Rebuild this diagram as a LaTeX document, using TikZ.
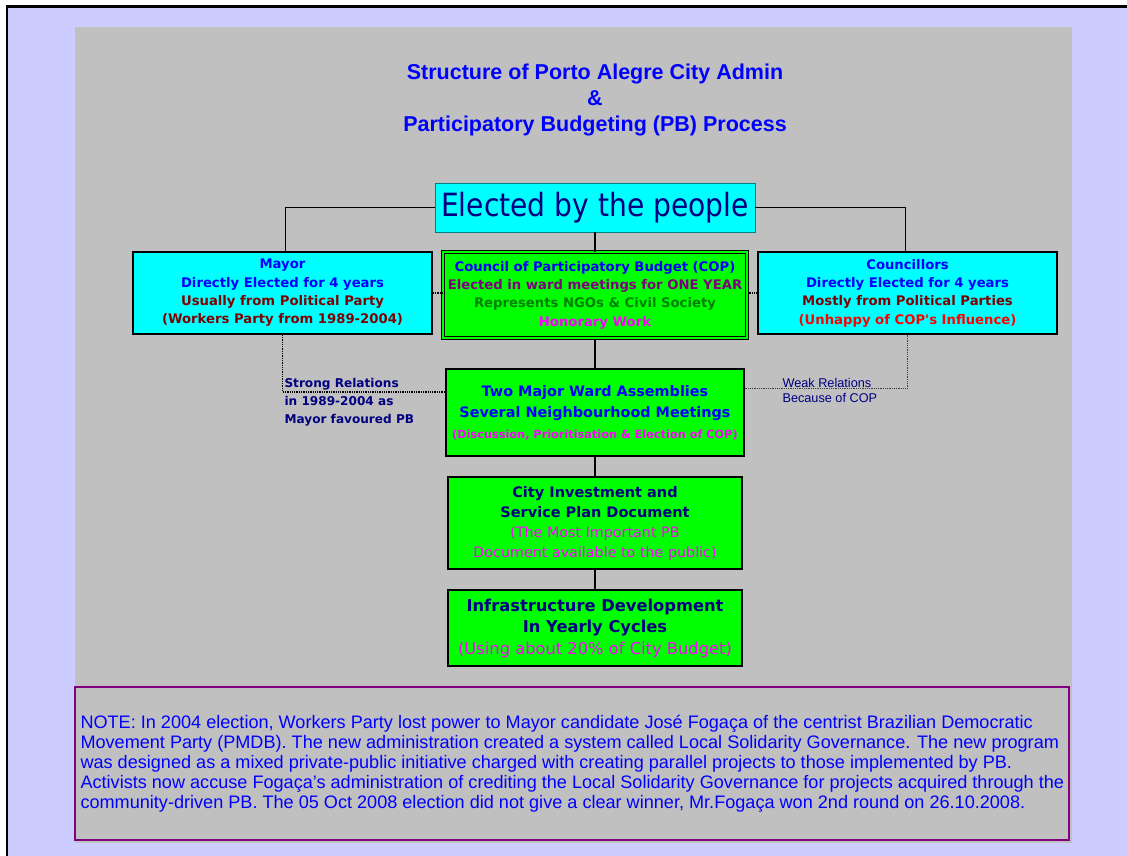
\documentclass[tikz,border=0pt]{standalone}
\usepackage{fontspec}
\setmainfont{Liberation Sans}
\newfontfamily\tahoma{DejaVu Sans}
\newfontfamily\tahomanarrow[FakeStretch=0.88]{DejaVu Sans}
\usetikzlibrary{calc,positioning}
\definecolor{pblav}{HTML}{CCCCFF}
\definecolor{pbgray}{HTML}{C0C0C0}
\definecolor{pbcyan}{HTML}{00FFFF}
\definecolor{pbgreen}{HTML}{00FF00}
\definecolor{pbnavy}{HTML}{000080}
\definecolor{pbblue}{HTML}{0000FF}
\definecolor{pbdred}{HTML}{800000}
\definecolor{pbpurple}{HTML}{800080}
\definecolor{pbngo}{HTML}{008000}
\definecolor{pbmag}{HTML}{FF00FF}
\definecolor{pbred}{HTML}{FF0000}
\definecolor{pbteal}{HTML}{008080}
\tikzset{
    mybox/.style={draw=black,line width=1.2pt,align=center,inner sep=0pt,
      font=\tahoma\bfseries\fontsize{13.2}{18.3}\selectfont},
    cyanbox/.style={mybox,fill=pbcyan,minimum width=299pt,minimum height=82pt},
    greenbox/.style={mybox,fill=pbgreen},
    myedge/.style={line width=1.3pt,draw=black},
    mydot/.style={line width=1.3pt,draw=black,densely dotted},
    weakdot/.style={line width=0.8pt,draw=black!75,densely dotted},
    every node/.style={text=pbnavy}
}
\begin{document}
\begin{tikzpicture}[x=1pt,y=-1pt]
  \useasboundingbox (0,0) rectangle (1127,856);
  \fill[white] (0,0) rectangle (1127,856);
  \fill[pblav] (7,6.5) rectangle (1127,856);
  \draw[black,line width=2.5pt] (7,856) -- (7,6.5) -- (1127,6.5);
  \fill[pbgray] (75,27) rectangle (1072,843);

  \node[text=pbblue,align=center,font=\bfseries\fontsize{21.5}{26}\selectfont] (title) at (595,100)
    {Structure of Porto Alegre City Admin\\ \&\\ Participatory Budgeting (PB) Process};

  \node[draw=pbteal,line width=0.8pt,fill=pbcyan,inner sep=0pt,minimum width=320pt,minimum height=49pt,
    font=\tahomanarrow\fontsize{32}{36}\selectfont] (people) at (595,207.5) {Elected by the people};

  \node[cyanbox] (mayor) at (282.5,293)
    {\textcolor{pbblue}{Mayor}\\ \textcolor{pbblue}{Directly Elected for 4 years}\\
     \textcolor{pbdred}{Usually from Political Party}\\ \textcolor{pbdred}{(Workers Party from 1989-2004)}};
  \node[greenbox,minimum width=304pt,minimum height=86pt,double=pbgreen,double distance=1.6pt,line width=1pt] (cop) at (595,295)
    {\textcolor{pbblue}{Council of Participatory Budget (COP)}\\ \textcolor{pbpurple}{Elected in ward meetings for ONE YEAR}\\
     \textcolor{pbngo}{Represents NGOs \& Civil Society}\\ \textcolor{pbmag}{Honorary Work}};
  \node[cyanbox] (council) at (907.5,293)
    {\textcolor{pbblue}{Councillors}\\ \textcolor{pbblue}{Directly Elected for 4 years}\\
     \textcolor{pbdred}{Mostly from Political Parties}\\ \textcolor{pbred}{(Unhappy of COP's Influence)}};

  \node[greenbox,minimum width=298pt,minimum height=87pt,font=\tahoma\bfseries\fontsize{14.4}{21}\selectfont] (ward) at (595,412.5)
    {\textcolor{pbblue}{Two Major Ward Assemblies}\\ \textcolor{pbblue}{Several Neighbourhood Meetings}\\
     \textcolor{pbmag}{\fontsize{11.3}{21}\selectfont(Discussion, Prioritisation \& Election of COP)}};
  \node[greenbox,minimum width=294pt,minimum height=92pt,font=\tahoma\bfseries\fontsize{14.5}{20}\selectfont] (plan) at (595,523)
    {City Investment and\\ Service Plan Document\\
     \textcolor{pbmag}{\mdseries\fontsize{14.3}{20}\selectfont(The Most Important PB}\\
     \textcolor{pbmag}{\mdseries\fontsize{14.3}{20}\selectfont Document available to the public)}};
  \node[greenbox,minimum width=294pt,minimum height=76pt,font=\tahoma\bfseries\fontsize{16.3}{21.5}\selectfont] (infra) at (595,628)
    {Infrastructure Development\\ In Yearly Cycles\\
     \textcolor{pbmag}{\mdseries(Using about 20\% of City Budget)}};

  \node[anchor=west,align=left,font=\tahoma\bfseries\fontsize{12.1}{18}\selectfont] (strong) at (281,402)
    {Strong Relations\\ in 1989-2004 as\\ Mayor favoured PB};
  \node[anchor=west,align=left,font=\fontsize{12.7}{14.5}\selectfont] (weak) at (779,390.5)
    {Weak Relations\\ Because of COP};

  \draw[myedge] (people.west) -| ([xshift=3pt]mayor.north);
  \draw[myedge] (people.east) -| ([xshift=-2pt]council.north);
  \draw[myedge] (people.south) -- (cop.north);
  \draw[myedge] (cop.south) -- (ward.north);
  \draw[myedge] (ward.south) -- (plan.north);
  \draw[myedge] (plan.south) -- (infra.north);
  \draw[mydot] (mayor.east) -- (mayor.east -| cop.west);
  \draw[mydot] (council.west) -- (council.west -| cop.east);
  \draw[mydot] (mayor.south) |- ([yshift=20.5pt]ward.west);
  \draw[weakdot] ([yshift=24.5pt]ward.east) -| (council.south);

  \node[draw=pbpurple,line width=1.2pt,fill=pbgray,minimum width=994pt,minimum height=153pt] (notebox) at (572,763.5) {};
  \node[anchor=west,align=left,text=pbblue,font=\fontsize{18.1}{20.1}\selectfont] (note) at (77,763.5)
    {NOTE: In 2004 election, Workers Party lost power to Mayor candidate José Fogaça of the centrist Brazilian Democratic\\
     Movement Party (PMDB). The new administration created a system called Local Solidarity Governance. The new program\\
     was designed as a mixed private-public initiative charged with creating parallel projects to those implemented by PB.\\
     Activists now accuse Fogaça's administration of crediting the Local Solidarity Governance for projects acquired through the\\
     community-driven PB. The 05 Oct 2008 election did not give a clear winner, Mr.Fogaça won 2nd round on 26.10.2008.};
\end{tikzpicture}
\end{document}
